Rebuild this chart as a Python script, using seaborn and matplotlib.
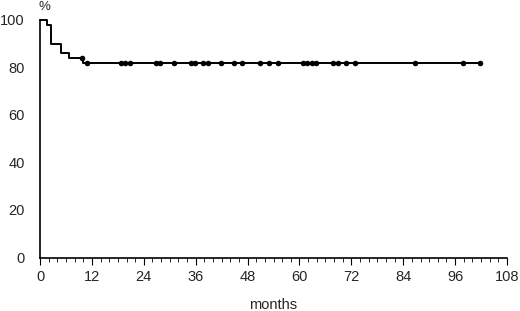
import numpy as np
import pandas as pd
import matplotlib
matplotlib.use("Agg")
import matplotlib.pyplot as plt
import seaborn as sns
from matplotlib.ticker import MultipleLocator

# Kaplan-Meier steps (months, % surviving)
step_months = [0, 1.5, 2.5, 4.8, 6.8, 9.9, 101.8]
step_surv = [100, 98, 90, 86, 84, 82, 82]

# censored observations
cens_months = [9.7, 10.8, 18.7, 19.7, 20.7, 26.8, 27.8, 30.9, 34.9, 35.8, 37.8, 38.8,
               41.9, 44.8, 46.8, 50.9, 53.0, 55.0, 60.9, 61.8, 62.8, 63.8, 67.8, 68.8,
               70.8, 72.8, 86.8, 97.8, 101.8]
cens_surv = [84, 82, 82, 82, 82, 82, 82, 82, 82, 82, 82, 82,
             82, 82, 82, 82, 82, 82, 82, 82, 82, 82, 82, 82,
             82, 82, 82, 82, 82]

sns.set_theme(style="white")
plt.rcParams["font.family"] = ["Liberation Sans", "DejaVu Sans"]

df_km = pd.DataFrame({"months": step_months, "surv": step_surv})
df_cens = pd.DataFrame({"months": cens_months, "surv": cens_surv})

fig = plt.figure(figsize=(5.2, 3.11), dpi=100)
ax = fig.add_axes([0.077, 0.172, 0.898, 0.764])

sns.lineplot(data=df_km, x="months", y="surv", estimator=None, sort=False,
             drawstyle="steps-post", color="black", linewidth=1.4, ax=ax, clip_on=False)
sns.scatterplot(data=df_cens, x="months", y="surv", color="black", s=16,
                edgecolor="black", linewidth=0, ax=ax, clip_on=False, zorder=3)

ax.set_xlim(0, 108)
ax.set_ylim(0, 100)
ax.set_xticks(np.arange(0, 109, 12))
ax.xaxis.set_minor_locator(MultipleLocator(2))
ax.set_yticks(np.arange(0, 101, 20))

for s in ["top", "right"]:
    ax.spines[s].set_visible(False)
for s in ["left", "bottom"]:
    ax.spines[s].set_color("black")
    ax.spines[s].set_linewidth(1.2)

ax.tick_params(axis="x", which="major", direction="out", length=5, width=0.8,
               color="black", labelsize=10.5, pad=4, bottom=True)
ax.tick_params(axis="x", which="minor", direction="out", length=3, width=0.6,
               color="black", bottom=True)
ax.tick_params(axis="y", length=0, labelsize=10.5, pad=11)

ax.set_xlabel("months", fontsize=10.5, labelpad=10)
ax.set_ylabel("")
ax.text(-0.3, 104, "%", fontsize=9.5, ha="left", va="baseline", transform=ax.transData)

fig.savefig("out.png", dpi=100)
